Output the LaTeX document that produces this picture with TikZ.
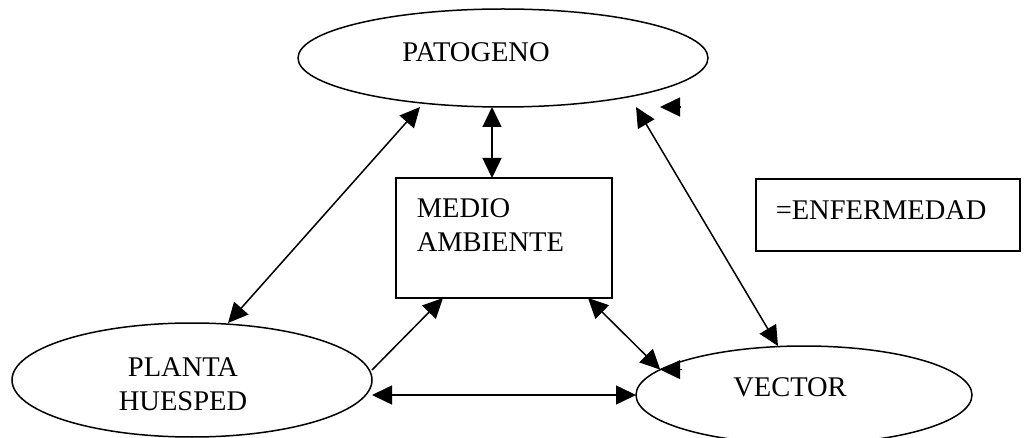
\documentclass[tikz,border=0pt]{standalone}
\usepackage{fontspec}
\setmainfont{Liberation Serif}
\usetikzlibrary{arrows.meta,shapes.geometric}

\begin{document}
\begin{tikzpicture}
[ x=1pt, y=-1pt, line width=1.5pt
, font=\fontsize{28.5}{34}\selectfont
, factor/.style={ellipse, draw, inner sep=0pt, outer sep=0pt}
, box/.style={rectangle, draw, inner sep=0pt, outer sep=0pt}
, tag/.style={inner sep=0pt, align=center}
, link/.style={{Triangle[length=20pt,width=19pt]}-{Triangle[length=20pt,width=19pt]}}
, oneway/.style={-{Triangle[length=20pt,width=19pt]}}
]
\useasboundingbox (0,0) rectangle (1033,438);
% The three factors:
\node (patogeno) [factor, minimum width=410pt, minimum height=98pt,
  label={[tag, xshift=-27pt, yshift=6pt]center:PATOGENO}] at (503,58) {};
\node (planta) [factor, minimum width=360pt, minimum height=114pt,
  label={[tag, xshift=-9pt, yshift=-4pt]center:PLANTA\\HUESPED}] at (192,380) {};
\node (vector) [factor, minimum width=336pt, minimum height=98pt,
  label={[tag, xshift=-14pt, yshift=8pt]center:VECTOR}] at (804,395) {};
% The boxes:
\node (medio) [box, minimum width=216pt, minimum height=120pt,
  label={[tag, align=left, anchor=north west, xshift=20pt, yshift=-20pt]north west:MEDIO\\AMBIENTE}] at (504,238) {};
\node (enfermedad) [box, minimum width=264pt, minimum height=72pt,
  label={[tag, anchor=west, xshift=19pt, yshift=5pt]west:=ENFERMEDAD}] at (888,215) {};
% Arrows:
\draw [link] ([xshift=-83pt]patogeno.south) -- ([xshift=36pt]planta.north);
\draw [link] ([xshift=-11pt]patogeno.south) -- ([xshift=-12pt]medio.north);
\draw [link] ([xshift=133pt]patogeno.south) -- ([xshift=-26pt]vector.north);
\draw [oneway] ([yshift=10pt]planta.east) -- ([xshift=-61pt]medio.south);
\draw [link] (planta.east |- vector.west) -- (vector.west);
\draw [link] ([xshift=-24pt]medio.south east) -- (vector.170);
% Loose tips:
\draw [oneway] ([xshift=178pt]patogeno.south) -- ([xshift=157pt]patogeno.south);
\draw [oneway] ([xshift=22pt]vector.170) -- (vector.170);
\end{tikzpicture}
\end{document}
